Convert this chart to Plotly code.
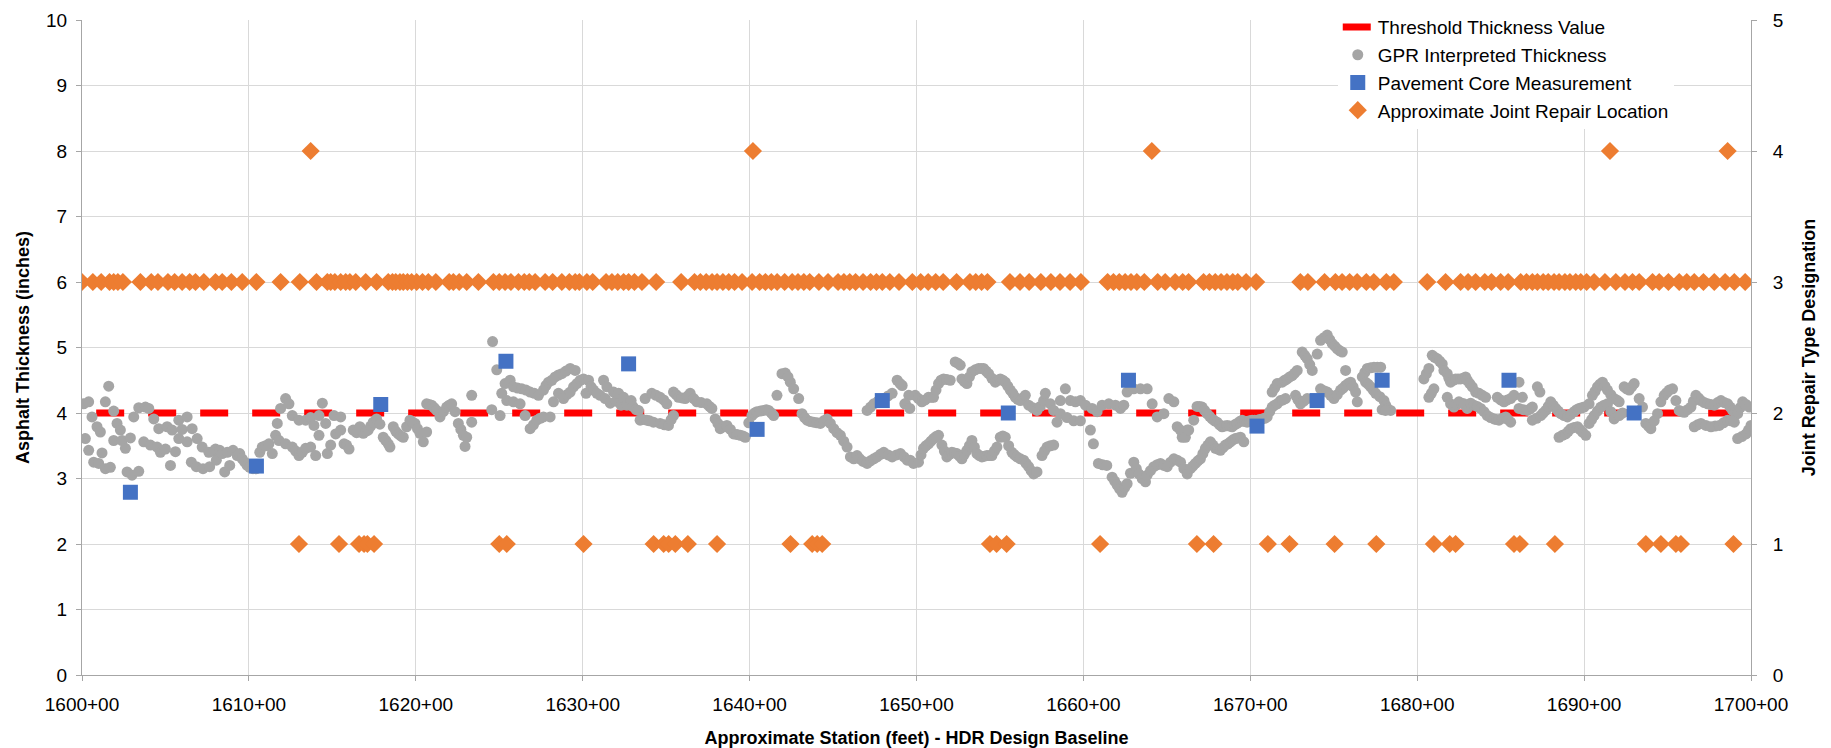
import plotly.graph_objects as go

# ---------------- data ----------------
station_ticks = [1600, 1610, 1620, 1630, 1640, 1650, 1660, 1670, 1680, 1690, 1700]
station_labels = ["%d+00" % s for s in station_ticks]

threshold_station = [1600.85, 1700]
threshold_value = [4, 4]

gpr_1600s = [(1600.1, 4.14), (1600.2, 3.61), (1600.4, 4.17), (1600.4, 3.43), (1600.6, 3.94), (1600.7, 3.25),
             (1600.9, 3.79), (1601.0, 3.23), (1601.1, 3.71), (1601.2, 3.39), (1601.4, 4.17), (1601.4, 3.15),
             (1601.6, 4.41), (1601.7, 3.17), (1601.9, 4.03), (1601.9, 3.58), (1602.1, 3.84), (1602.3, 3.74),
             (1602.4, 3.58), (1602.6, 3.46), (1602.7, 3.10), (1602.9, 3.62), (1603.0, 3.05), (1603.1, 3.94),
             (1603.4, 3.11), (1603.4, 4.08), (1603.7, 3.56), (1603.8, 4.09), (1604.0, 4.07), (1604.1, 3.51),
             (1604.3, 3.91), (1604.5, 3.48), (1604.6, 3.76), (1604.7, 3.40), (1605.0, 3.45), (1605.1, 3.79),
             (1605.3, 3.20), (1605.4, 3.74), (1605.6, 3.41), (1605.8, 3.89), (1605.8, 3.61), (1606.0, 3.75),
             (1606.3, 3.94), (1606.3, 3.56), (1606.55, 3.25), (1606.6, 3.76), (1606.85, 3.18), (1606.9, 3.61),
             (1607.2, 3.48), (1607.25, 3.15), (1607.6, 3.40), (1607.65, 3.18), (1607.9, 3.42), (1608.0, 3.45),
             (1608.05, 3.28), (1608.25, 3.43), (1608.4, 3.38), (1608.55, 3.10), (1608.7, 3.40), (1608.85, 3.20),
             (1609.05, 3.43), (1609.3, 3.35), (1609.45, 3.38), (1609.6, 3.30), (1609.75, 3.25), (1609.9, 3.20)]
gpr_1610s = [(1610.05, 3.17), (1610.25, 3.15), (1610.45, 3.15), (1610.65, 3.40), (1610.8, 3.48), (1611.0, 3.50),
             (1611.2, 3.53), (1611.4, 3.38), (1611.6, 3.66), (1611.7, 3.84), (1611.8, 3.58), (1611.9, 4.07),
             (1612.2, 4.22), (1612.2, 3.53), (1612.4, 4.14), (1612.6, 3.48), (1612.6, 3.96), (1612.8, 3.42),
             (1613.0, 3.35), (1613.0, 3.89), (1613.2, 3.40), (1613.4, 3.46), (1613.4, 3.89), (1613.7, 3.48),
             (1613.7, 3.93), (1613.9, 3.81), (1614.0, 3.35), (1614.2, 3.96), (1614.2, 3.66), (1614.4, 4.15),
             (1614.6, 3.84), (1614.7, 3.38), (1614.9, 3.51), (1615.1, 3.96), (1615.2, 3.68), (1615.5, 3.74),
             (1615.5, 3.94), (1615.7, 3.53), (1615.85, 3.51), (1616.0, 3.45), (1616.25, 3.74), (1616.45, 3.70),
             (1616.65, 3.79), (1616.85, 3.69), (1617.0, 3.72), (1617.15, 3.74), (1617.3, 3.80), (1617.45, 3.86),
             (1617.65, 3.91), (1617.85, 3.83), (1618.05, 3.63), (1618.2, 3.58), (1618.35, 3.53), (1618.45, 3.48),
             (1618.65, 3.79), (1618.8, 3.72), (1618.95, 3.68), (1619.1, 3.65), (1619.25, 3.63), (1619.45, 3.79),
             (1619.65, 3.89), (1619.8, 3.86), (1619.95, 3.84)]
gpr_1620s = [(1620.1, 3.76), (1620.25, 3.69), (1620.45, 3.56), (1620.65, 3.71), (1620.65, 4.14), (1620.8, 4.13),
             (1620.95, 4.12), (1621.1, 4.08), (1621.25, 4.04), (1621.45, 3.94), (1621.65, 4.02), (1621.85, 4.09),
             (1622.0, 4.12), (1622.15, 4.14), (1622.35, 4.02), (1622.55, 3.84), (1622.7, 3.75), (1622.85, 3.66),
             (1622.95, 3.49), (1623.05, 3.63), (1623.35, 4.27), (1623.35, 3.86), (1624.55, 4.05), (1624.6, 5.09),
             (1624.85, 4.66), (1625.05, 3.96), (1625.15, 4.30), (1625.35, 4.45), (1625.45, 4.19), (1625.65, 4.50),
             (1625.85, 4.40), (1625.85, 4.17), (1626.1, 4.38), (1626.25, 4.14), (1626.35, 4.37), (1626.55, 3.96),
             (1626.6, 4.35), (1626.85, 4.32), (1626.85, 3.76), (1627.05, 3.82), (1627.1, 4.30), (1627.25, 3.89),
             (1627.35, 4.27), (1627.45, 3.92), (1627.65, 4.35), (1627.65, 3.94), (1627.8, 4.42), (1627.95, 4.47),
             (1628.05, 3.94), (1628.15, 4.50), (1628.25, 4.17), (1628.35, 4.55), (1628.55, 4.30), (1628.55, 4.58),
             (1628.75, 4.60), (1628.85, 4.22), (1629.0, 4.64), (1629.05, 4.28), (1629.25, 4.68), (1629.25, 4.32),
             (1629.45, 4.40), (1629.55, 4.65), (1629.65, 4.45), (1629.85, 4.50)]
gpr_1630s = [(1630.05, 4.52), (1630.2, 4.30), (1630.35, 4.50), (1630.5, 4.40), (1630.65, 4.35), (1630.85, 4.30),
             (1631.05, 4.27), (1631.25, 4.50), (1631.35, 4.22), (1631.45, 4.40), (1631.65, 4.15), (1631.85, 4.32),
             (1632.0, 4.18), (1632.15, 4.30), (1632.3, 4.12), (1632.45, 4.24), (1632.65, 4.12), (1632.9, 4.19),
             (1633.0, 4.10), (1633.2, 4.05), (1633.34, 4.04), (1633.44, 3.89), (1633.6, 3.90), (1633.74, 4.22),
             (1633.84, 3.89), (1634.0, 3.88), (1634.14, 4.30), (1634.24, 3.86), (1634.4, 4.27), (1634.64, 4.24),
             (1634.64, 3.84), (1634.85, 4.20), (1634.9, 3.82), (1635.04, 4.14), (1635.14, 3.81), (1635.3, 3.90),
             (1635.44, 4.32), (1635.44, 3.96), (1635.6, 4.28), (1635.74, 4.24), (1635.95, 4.23), (1636.14, 4.22),
             (1636.3, 4.26), (1636.44, 4.30), (1636.65, 4.22), (1636.84, 4.17), (1637.1, 4.16), (1637.44, 4.14),
             (1637.6, 4.10), (1637.74, 4.07), (1637.94, 3.91), (1638.1, 3.84), (1638.24, 3.76), (1638.44, 3.79),
             (1638.64, 3.81), (1638.85, 3.75), (1639.04, 3.68), (1639.25, 3.67), (1639.44, 3.66), (1639.6, 3.65),
             (1639.74, 3.63), (1639.95, 3.85)]
gpr_1640s = [(1640.14, 3.96), (1640.3, 4.00), (1640.44, 4.02), (1640.65, 4.03), (1640.84, 4.04), (1641.0, 4.05),
             (1641.14, 4.04), (1641.3, 4.00), (1641.44, 3.96), (1641.64, 4.27), (1641.94, 4.60), (1642.14, 4.61),
             (1642.3, 4.55), (1642.44, 4.47), (1642.64, 4.37), (1642.94, 4.22), (1643.14, 3.99), (1643.3, 3.93),
             (1643.44, 3.89), (1643.64, 3.87), (1643.84, 3.86), (1644.04, 3.85), (1644.24, 3.84), (1644.44, 3.88),
             (1644.64, 3.91), (1644.84, 3.84), (1645.04, 3.76), (1645.24, 3.70), (1645.44, 3.66), (1645.64, 3.57),
             (1645.84, 3.48), (1646.04, 3.33), (1646.24, 3.30), (1646.44, 3.35), (1646.6, 3.30), (1646.8, 3.26),
             (1647.04, 3.23), (1647.24, 3.27), (1647.44, 3.30), (1647.64, 3.33), (1647.84, 3.37), (1648.04, 3.40),
             (1648.3, 3.36), (1648.54, 3.33), (1648.8, 3.36), (1649.04, 3.38), (1649.25, 3.33), (1649.44, 3.28),
             (1647.04, 4.04), (1647.25, 4.09), (1647.44, 4.14), (1647.7, 4.18), (1648.04, 4.22), (1648.3, 4.26),
             (1648.54, 4.30), (1648.84, 4.50), (1649.14, 4.42), (1649.34, 4.14), (1649.54, 4.27), (1649.02, 4.45),
             (1649.3, 4.14), (1649.6, 4.07), (1649.92, 4.27), (1649.62, 3.28), (1649.82, 3.23)]
gpr_1650s = [(1650.12, 4.22), (1650.32, 4.17), (1650.52, 4.20), (1650.72, 4.24), (1650.9, 4.24), (1651.02, 4.24),
             (1651.17, 4.35), (1651.32, 4.45), (1651.47, 4.50), (1651.62, 4.52), (1651.82, 4.51), (1652.02, 4.50),
             (1652.32, 4.78), (1652.47, 4.76), (1652.62, 4.73), (1652.72, 4.52), (1652.87, 4.48), (1653.02, 4.45),
             (1653.17, 4.55), (1653.32, 4.63), (1653.52, 4.66), (1653.72, 4.68), (1653.87, 4.68), (1654.02, 4.68),
             (1654.17, 4.64), (1654.32, 4.60), (1654.52, 4.53), (1654.72, 4.47), (1654.87, 4.50), (1655.02, 4.52),
             (1655.17, 4.50), (1655.32, 4.47), (1655.47, 4.41), (1655.62, 4.35), (1655.77, 4.30), (1655.92, 4.24),
             (1656.07, 4.21), (1656.22, 4.19), (1656.37, 4.23), (1656.52, 4.27), (1656.72, 4.12), (1656.97, 4.08),
             (1657.22, 4.04), (1657.42, 4.10), (1657.62, 4.19), (1657.72, 4.30), (1658.02, 4.14), (1658.22, 4.04),
             (1658.42, 3.86), (1658.62, 4.19), (1658.62, 3.99), (1658.92, 4.37), (1659.02, 3.93), (1659.22, 4.19),
             (1659.42, 3.88), (1659.52, 4.17), (1659.82, 4.19), (1659.82, 3.88),
             (1650.12, 3.25), (1650.27, 3.36), (1650.42, 3.46), (1650.57, 3.50), (1650.72, 3.53), (1650.87, 3.57),
             (1651.02, 3.61), (1651.17, 3.64), (1651.32, 3.66), (1651.52, 3.51), (1651.67, 3.42), (1651.82, 3.33),
             (1651.97, 3.37), (1652.12, 3.40), (1652.27, 3.39), (1652.42, 3.38), (1652.57, 3.34), (1652.72, 3.30),
             (1652.87, 3.37), (1653.02, 3.43), (1653.17, 3.50), (1653.32, 3.58), (1653.47, 3.48), (1653.62, 3.38),
             (1653.77, 3.35), (1653.92, 3.33), (1654.07, 3.34), (1654.22, 3.35), (1654.37, 3.35), (1654.52, 3.35),
             (1654.67, 3.42), (1654.82, 3.48), (1655.02, 3.63), (1655.17, 3.65), (1655.32, 3.63), (1655.52, 3.50),
             (1655.72, 3.40), (1655.87, 3.36), (1656.02, 3.33), (1656.22, 3.30), (1656.42, 3.28), (1656.57, 3.23),
             (1656.72, 3.18), (1656.87, 3.12), (1657.02, 3.07), (1657.22, 3.10), (1657.52, 3.35), (1657.67, 3.42),
             (1657.82, 3.48), (1658.02, 3.50), (1658.22, 3.51)]
gpr_1660s = [(1660.12, 4.12), (1660.42, 3.74), (1660.52, 4.07), (1660.6, 3.53), (1660.82, 4.02), (1660.9, 3.23),
             (1661.12, 4.12), (1661.15, 3.21), (1661.4, 3.20), (1661.52, 4.14), (1661.72, 3.02), (1661.92, 4.12),
             (1661.87, 2.96), (1662.02, 2.90), (1662.17, 2.84), (1662.22, 4.07), (1662.32, 2.79), (1662.42, 4.12),
             (1662.47, 2.86), (1662.62, 4.32), (1662.62, 2.92), (1662.82, 3.08), (1663.02, 4.37), (1663.02, 3.25),
             (1663.17, 3.15), (1663.32, 3.07), (1663.42, 4.37), (1663.52, 3.00), (1663.72, 2.95), (1663.82, 4.37),
             (1663.82, 3.05), (1664.02, 3.12), (1664.12, 4.14), (1664.22, 3.18), (1664.42, 3.94), (1664.42, 3.21),
             (1664.62, 3.23), (1664.82, 3.99), (1664.82, 3.20), (1665.02, 3.18), (1665.12, 4.22), (1665.22, 3.25),
             (1665.42, 4.17), (1665.42, 3.30), (1665.62, 3.79), (1665.62, 3.28), (1665.82, 3.25), (1665.92, 3.63),
             (1666.02, 3.15), (1666.22, 3.74), (1666.22, 3.07), (1666.41, 3.15), (1666.56, 3.19), (1666.71, 3.23),
             (1666.86, 3.27), (1667.01, 3.30), (1667.16, 3.38), (1667.31, 3.46), (1667.46, 3.51), (1667.61, 3.56),
             (1667.76, 3.51), (1667.91, 3.46), (1668.06, 3.45), (1668.21, 3.43), (1668.36, 3.47), (1668.51, 3.51),
             (1668.66, 3.53), (1668.81, 3.56), (1668.96, 3.59), (1669.11, 3.61), (1669.26, 3.62), (1669.41, 3.63),
             (1669.61, 3.56), (1665.81, 3.74), (1666.11, 3.63), (1666.31, 3.74), (1666.61, 3.89), (1666.81, 4.10),
             (1666.96, 4.10), (1667.11, 4.09), (1667.26, 4.04), (1667.41, 3.99), (1667.56, 3.95), (1667.71, 3.91),
             (1667.86, 3.88), (1668.01, 3.86), (1668.16, 3.82), (1668.31, 3.79), (1668.46, 3.80), (1668.61, 3.81),
             (1668.76, 3.80), (1668.91, 3.79), (1669.06, 3.82), (1669.21, 3.84), (1669.36, 3.87), (1669.51, 3.89),
             (1669.66, 3.87), (1669.81, 3.86), (1669.96, 3.88)]
gpr_1670s = [(1670.11, 3.89), (1670.26, 3.89), (1670.41, 3.89), (1670.56, 3.90), (1670.71, 3.91), (1670.86, 3.92),
             (1671.01, 3.94), (1671.16, 4.02), (1671.31, 4.09), (1671.46, 4.12), (1671.61, 4.14), (1671.81, 4.19),
             (1671.96, 4.20), (1672.11, 4.22), (1671.31, 4.32), (1671.46, 4.38), (1671.61, 4.45), (1671.91, 4.47),
             (1672.06, 4.50), (1672.21, 4.52), (1672.36, 4.55), (1672.51, 4.57), (1672.66, 4.61), (1672.81, 4.65),
             (1672.71, 4.27), (1672.86, 4.20), (1673.01, 4.14), (1673.21, 4.18), (1673.41, 4.22), (1673.11, 4.93),
             (1673.26, 4.88), (1673.41, 4.83), (1673.56, 4.74), (1673.71, 4.65), (1674.01, 4.90), (1674.21, 5.11),
             (1674.41, 5.15), (1674.61, 5.19), (1674.76, 5.12), (1674.91, 5.06), (1675.06, 5.02), (1675.21, 4.98),
             (1675.36, 4.95), (1675.51, 4.93), (1674.21, 4.37), (1674.41, 4.34), (1674.61, 4.32), (1674.81, 4.27),
             (1675.01, 4.22), (1675.21, 4.28), (1675.41, 4.35), (1675.56, 4.38), (1675.71, 4.42), (1675.71, 4.65),
             (1675.86, 4.45), (1676.01, 4.47), (1676.16, 4.40), (1676.31, 4.32), (1676.41, 4.17), (1676.71, 4.55),
             (1676.86, 4.62), (1677.01, 4.68), (1677.21, 4.69), (1677.41, 4.70), (1677.61, 4.70), (1677.81, 4.70),
             (1676.91, 4.47), (1677.06, 4.44), (1677.21, 4.40), (1677.36, 4.35), (1677.51, 4.30), (1677.76, 4.25),
             (1678.01, 4.19), (1678.11, 4.12), (1678.21, 4.07), (1678.41, 4.04), (1677.9, 4.05), (1678.1, 4.04)]
gpr_1680s = [(1680.4, 4.52), (1680.55, 4.60), (1680.7, 4.68), (1680.9, 4.88), (1681.05, 4.85), (1681.2, 4.83),
             (1681.35, 4.79), (1681.5, 4.75), (1681.6, 4.65), (1681.8, 4.60), (1681.9, 4.53), (1682.0, 4.47),
             (1682.15, 4.50), (1682.3, 4.52), (1682.45, 4.52), (1682.6, 4.52), (1682.75, 4.53), (1682.9, 4.55),
             (1680.7, 4.24), (1680.85, 4.30), (1681.0, 4.37), (1681.8, 4.24), (1682.0, 4.14), (1682.2, 4.09),
             (1682.35, 4.13), (1682.5, 4.17), (1682.65, 4.15), (1682.8, 4.14), (1683.0, 4.07), (1683.0, 4.50),
             (1683.15, 4.45), (1683.3, 4.40), (1683.5, 4.32), (1683.7, 4.30), (1683.9, 4.27), (1684.1, 4.24),
             (1683.2, 4.15), (1683.4, 4.12), (1683.6, 4.10), (1683.8, 4.07), (1684.0, 4.02), (1684.2, 3.96),
             (1684.4, 3.93), (1684.6, 3.91), (1684.75, 3.90), (1684.9, 3.89), (1685.1, 3.92), (1685.3, 3.94),
             (1685.45, 3.90), (1685.6, 3.86), (1684.8, 4.24), (1685.0, 4.20), (1685.2, 4.17), (1685.4, 4.20),
             (1685.6, 4.22), (1685.8, 4.27), (1686.1, 4.47), (1686.3, 4.24), (1686.1, 4.07), (1686.35, 4.05),
             (1686.6, 4.04), (1686.75, 4.06), (1686.9, 4.09), (1687.2, 4.40), (1687.35, 4.32), (1686.9, 3.89),
             (1687.15, 3.92), (1687.4, 3.96), (1687.55, 4.00), (1687.7, 4.04), (1687.85, 4.10), (1688.0, 4.17),
             (1688.15, 4.12), (1688.3, 4.07), (1688.45, 4.03), (1688.6, 3.99), (1688.8, 3.96), (1689.0, 3.94),
             (1689.2, 3.98), (1689.4, 4.02), (1689.55, 4.05), (1689.7, 4.07), (1689.85, 4.08), (1688.5, 3.63),
             (1688.7, 3.66), (1688.9, 3.68), (1689.05, 3.72), (1689.2, 3.76), (1689.4, 3.78), (1689.6, 3.79),
             (1689.75, 3.75), (1689.9, 3.71)]
gpr_1690s = [(1690.0, 4.09), (1690.1, 3.66), (1690.3, 4.14), (1690.5, 4.27), (1690.65, 4.33), (1690.8, 4.40),
             (1690.95, 4.44), (1691.1, 4.47), (1691.25, 4.41), (1691.4, 4.35), (1691.6, 4.28), (1691.8, 4.22),
             (1691.95, 4.20), (1692.1, 4.17), (1692.4, 4.40), (1692.55, 4.37), (1692.7, 4.35), (1692.85, 4.40),
             (1693.0, 4.45), (1693.3, 4.22), (1690.3, 3.84), (1690.45, 3.90), (1690.6, 3.96), (1690.8, 4.03),
             (1691.0, 4.09), (1691.2, 4.12), (1691.4, 4.14), (1691.6, 4.02), (1691.8, 3.91), (1692.1, 3.96),
             (1692.3, 4.00), (1693.5, 4.09), (1693.7, 3.84), (1693.85, 3.80), (1694.0, 3.76), (1694.2, 3.88),
             (1694.4, 3.99), (1694.6, 4.17), (1694.8, 4.27), (1694.95, 4.31), (1695.1, 4.35), (1695.3, 4.37),
             (1695.5, 4.19), (1695.7, 4.04), (1695.85, 4.02), (1696.0, 4.01), (1696.2, 4.05), (1696.4, 4.09),
             (1696.55, 4.18), (1696.7, 4.27), (1696.85, 4.23), (1697.0, 4.19), (1697.2, 4.16), (1697.4, 4.14),
             (1697.6, 4.13), (1697.8, 4.12), (1698.0, 4.16), (1698.2, 4.19), (1698.4, 4.16), (1698.6, 4.14),
             (1698.75, 4.09), (1698.9, 4.04), (1699.05, 4.01), (1699.2, 3.99), (1699.35, 4.08), (1699.5, 4.17),
             (1699.7, 4.13), (1699.9, 4.09), (1700.0, 3.81), (1699.85, 3.74), (1699.7, 3.68), (1699.45, 3.64),
             (1699.2, 3.61), (1696.6, 3.79), (1696.8, 3.82), (1697.0, 3.84), (1697.3, 3.81), (1697.6, 3.79),
             (1697.85, 3.80), (1698.1, 3.81), (1698.35, 3.85), (1698.6, 3.89), (1698.8, 3.88), (1699.0, 3.86)]

core_station = [1602.9, 1610.45, 1617.9, 1625.4, 1632.75, 1640.45, 1647.95, 1655.5, 1662.7,
                1670.4, 1674.0, 1677.9, 1685.5, 1693.0]
core_thickness = [2.79, 3.19, 4.13, 4.79, 4.75, 3.75, 4.19, 4.00, 4.50, 3.80, 4.19, 4.50, 4.50, 4.00]

joint_type1_station = [1613.0, 1615.4, 1616.6, 1616.9, 1617.1, 1617.5, 1625.0, 1625.45, 1630.05,
                       1634.25, 1634.85, 1635.15, 1635.55, 1636.3, 1638.05, 1642.45, 1643.75, 1644.05,
                       1644.35, 1654.4, 1654.8, 1655.4, 1661.0, 1666.8, 1667.8, 1671.05, 1672.35,
                       1675.05, 1677.55, 1681.0, 1681.95, 1682.3, 1685.8, 1686.15, 1688.25, 1693.7,
                       1694.6, 1695.5, 1695.8, 1698.95]
joint_type3_station = [1600.0, 1600.65, 1601.15, 1601.65, 1601.9, 1602.15, 1602.45, 1603.5, 1604.15,
                       1604.55, 1605.15, 1605.55, 1606.0, 1606.45, 1606.8, 1607.3, 1608.0, 1608.4,
                       1608.95, 1609.6, 1610.45, 1611.9, 1613.05, 1614.05, 1614.7, 1614.9, 1615.15,
                       1615.5, 1615.8, 1616.05, 1616.4, 1617.0, 1617.65, 1618.35, 1618.6, 1618.8,
                       1619.05, 1619.25, 1619.5, 1619.75, 1620.05, 1620.4, 1620.75, 1621.2, 1622.0,
                       1622.25, 1622.6, 1623.05, 1623.75, 1624.65, 1625.0, 1625.35, 1625.7, 1626.15,
                       1626.5, 1626.8, 1627.15, 1627.75, 1628.2, 1628.75, 1629.2, 1629.55, 1629.8,
                       1630.25, 1630.6, 1631.4, 1631.75, 1632.1, 1632.45, 1632.75, 1633.1, 1633.55,
                       1634.4, 1635.9, 1636.7, 1637.05, 1637.4, 1637.75, 1638.05, 1638.4, 1638.75,
                       1639.1, 1639.55, 1640.15, 1640.6, 1640.95, 1641.3, 1641.65, 1642.1, 1642.55,
                       1642.9, 1643.25, 1643.6, 1644.15, 1644.7, 1645.3, 1645.65, 1646.0, 1646.35,
                       1646.8, 1647.25, 1647.6, 1647.95, 1648.4, 1648.95, 1649.75, 1650.25, 1650.7,
                       1651.15, 1651.6, 1652.4, 1653.2, 1653.55, 1653.9, 1654.25, 1655.6, 1656.2,
                       1656.75, 1657.45, 1658.05, 1658.6, 1659.2, 1659.85, 1661.45, 1661.8, 1662.15,
                       1662.5, 1662.85, 1663.2, 1663.65, 1664.45, 1664.9, 1665.5, 1665.95, 1666.3,
                       1667.2, 1667.55, 1667.9, 1668.25, 1668.6, 1668.95, 1669.25, 1669.75, 1670.35,
                       1673.0, 1673.45, 1674.45, 1675.1, 1675.5, 1675.95, 1676.4, 1676.95, 1677.4,
                       1678.15, 1678.6, 1680.6, 1681.7, 1682.6, 1683.05, 1683.5, 1684.05, 1684.45,
                       1685.0, 1685.45, 1686.2, 1686.55, 1686.9, 1687.2, 1687.55, 1687.85, 1688.2,
                       1688.5, 1688.85, 1689.15, 1689.5, 1689.8, 1690.15, 1690.6, 1691.25, 1691.9,
                       1692.45, 1692.9, 1693.3, 1694.1, 1694.5, 1695.05, 1695.7, 1696.15, 1696.6,
                       1697.15, 1697.8, 1698.45, 1699.0, 1699.65]
joint_type4_station = [1613.7, 1640.2, 1664.1, 1691.55, 1698.6]

# ---------------- build ----------------
gpr_points = gpr_1600s + gpr_1610s + gpr_1620s + gpr_1630s + gpr_1640s + gpr_1650s + gpr_1660s + gpr_1670s + gpr_1680s + gpr_1690s
gpr_station = [p[0] for p in gpr_points]
gpr_thickness = [p[1] for p in gpr_points]

joint_station = joint_type1_station + joint_type3_station + joint_type4_station
joint_type = [1] * len(joint_type1_station) + [3] * len(joint_type3_station) + [4] * len(joint_type4_station)

FONT = "Liberation Sans"
AXIS_COLOR = "#A6A6A6"
GRID_COLOR = "#D9D9D9"

fig = go.Figure()
fig.add_trace(go.Scatter(
    x=threshold_station, y=threshold_value, mode="lines",
    name="Threshold Thickness Value",
    line=dict(color="#FF0000", width=7, dash="28px,24px"),
))
fig.add_trace(go.Scatter(
    x=gpr_station, y=gpr_thickness, mode="markers",
    name="GPR Interpreted Thickness",
    marker=dict(symbol="circle", size=11, color="#A5A5A5"),
))
fig.add_trace(go.Scatter(
    x=core_station, y=core_thickness, mode="markers",
    name="Pavement Core Measurement",
    marker=dict(symbol="square", size=15, color="#4472C4"),
))
fig.add_trace(go.Scatter(
    x=joint_station, y=joint_type, mode="markers", yaxis="y2",
    name="Approximate Joint Repair Location",
    marker=dict(symbol="diamond", size=14, color="#ED7D31"),
))

fig.update_layout(
    width=1815, height=740, autosize=False,
    margin=dict(l=74, r=72, t=12, b=73, autoexpand=False),
    paper_bgcolor="white", plot_bgcolor="white",
    font=dict(family=FONT, size=19, color="#000000"),
    showlegend=True,
    legend=dict(
        x=0.7524, y=1.018, xanchor="left", yanchor="top",
        bgcolor="white", borderwidth=0,
        font=dict(family=FONT, size=19, color="#000000"),
        itemwidth=30,
    ),
    xaxis=dict(
        range=[1600, 1700], tickmode="array",
        tickvals=station_ticks, ticktext=station_labels,
        showgrid=True, gridcolor=GRID_COLOR, gridwidth=1,
        showline=True, linecolor=AXIS_COLOR, linewidth=1,
        ticks="outside", ticklen=5, tickcolor=AXIS_COLOR,
        zeroline=False, ticklabelstandoff=7, automargin=False,
        tickfont=dict(family=FONT, size=19),
        title=dict(text="Approximate Station (feet) - HDR Design Baseline",
                   font=dict(family=FONT, size=18, weight="bold"), standoff=22),
    ),
    yaxis=dict(
        range=[0, 10], dtick=1, tick0=0,
        showgrid=True, gridcolor=GRID_COLOR, gridwidth=1,
        showline=True, linecolor=AXIS_COLOR, linewidth=1,
        ticks="outside", ticklen=5, tickcolor=AXIS_COLOR,
        zeroline=False, ticklabelstandoff=5, automargin=False,
        tickfont=dict(family=FONT, size=19),
        title=dict(text="Asphalt Thickness (inches)",
                   font=dict(family=FONT, size=18, weight="bold"), standoff=11),
    ),
    yaxis2=dict(
        range=[0, 5], dtick=1, tick0=0, overlaying="y", side="right",
        showgrid=False, showline=True, linecolor=AXIS_COLOR, linewidth=1,
        ticks="outside", ticklen=5, tickcolor=AXIS_COLOR,
        zeroline=False, ticklabelstandoff=12, automargin=False,
        tickfont=dict(family=FONT, size=19),
        title=dict(text="Joint Repair Type Designation",
                   font=dict(family=FONT, size=18, weight="bold"), standoff=19),
    ),
)

fig.write_html("out.html")
